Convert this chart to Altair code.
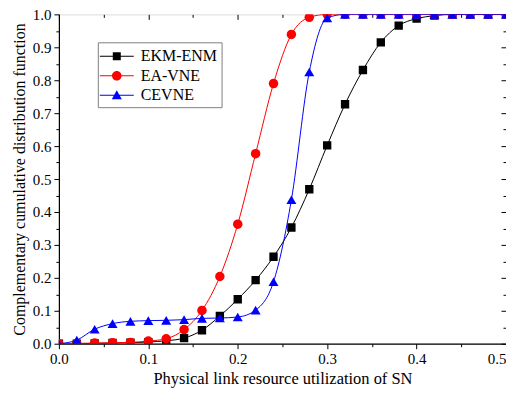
import altair as alt
import pandas as pd

# ---- data ----
x_values = [0.00, 0.02, 0.04, 0.06, 0.08, 0.10, 0.12, 0.14, 0.16, 0.18, 0.20, 0.22, 0.24,
            0.26, 0.28, 0.30, 0.32, 0.34, 0.36, 0.38, 0.40, 0.42, 0.44, 0.46, 0.48, 0.50]
ekm_enm = [0.000, 0.000, 0.001, 0.002, 0.003, 0.005, 0.009, 0.017, 0.041, 0.084, 0.135, 0.193, 0.264,
           0.353, 0.469, 0.602, 0.727, 0.831, 0.915, 0.966, 0.987, 0.996, 1.000, 1.000, 1.000, 1.000]
ea_vne = [0.000, 0.001, 0.002, 0.003, 0.004, 0.008, 0.015, 0.043, 0.101, 0.204, 0.363, 0.577, 0.790,
          0.939, 0.991, 1.000, 1.000, 1.000, 1.000, 1.000, 1.000, 1.000, 1.000, 1.000, 1.000, 1.000]
cevne = [0.000, 0.011, 0.044, 0.061, 0.068, 0.070, 0.071, 0.073, 0.077, 0.078, 0.081, 0.102, 0.188,
         0.437, 0.825, 0.989, 1.000, 1.000, 1.000, 1.000, 1.000, 1.000, 1.000, 1.000, 1.000, 1.000]

series_names = ["EKM-ENM", "EA-VNE", "CEVNE"]
series_colors = ["#000000", "#ff0000", "#0000ff"]
series_shapes = ["square", "circle", "triangle-up"]
series_sizes = [70, 90, 100]

x_major = [0.0, 0.1, 0.2, 0.3, 0.4, 0.5]
x_minor = [0.05, 0.15, 0.25, 0.35, 0.45]
y_major = [0.0, 0.1, 0.2, 0.3, 0.4, 0.5, 0.6, 0.7, 0.8, 0.9, 1.0]
y_minor = [0.05, 0.15, 0.25, 0.35, 0.45, 0.55, 0.65, 0.75, 0.85, 0.95]

x_title = "Physical link resource utilization of SN"
y_title = "Complementary cumulative distribution function"

rows = []
for name, vals in zip(series_names, [ekm_enm, ea_vne, cevne]):
    for xv, yv in zip(x_values, vals):
        rows.append({"x": xv, "y": yv, "series": name})
df = pd.DataFrame(rows)

FONT = "Liberation Serif"
xs = alt.Scale(domain=[0, 0.5], nice=False, zero=False)
ys = alt.Scale(domain=[0, 1], nice=False, zero=False)

base = alt.Chart(df)


def axis_layer(xaxis, yaxis):
    return base.mark_point(opacity=0).encode(
        x=alt.X("x:Q", scale=xs, axis=xaxis),
        y=alt.Y("y:Q", scale=ys, axis=yaxis),
    )


common = dict(grid=False, domainColor="black", tickColor="black", tickWidth=1,
              labelFont=FONT, labelColor="black", titleFont=FONT, titleColor="black",
              labelFlush=False, labelOverlap=False)

main_axes = axis_layer(
    alt.Axis(orient="bottom", values=x_major, format=".1f", tickSize=5, labelPadding=3,
             labelFontSize=15, title=x_title, titleFontSize=16.5, titleFontWeight="normal",
             titlePadding=4, domainWidth=1.2,
             labelAlign={"condition": {"test": "datum.value >= 0.5", "value": "right"},
                         "value": "center"},
             **common),
    alt.Axis(orient="left", values=y_major, format=".1f", tickSize=5, labelPadding=3,
             labelFontSize=15, title=y_title, titleFontSize=16, titleFontWeight="normal",
             titlePadding=5, domainWidth=1.2, **common),
)
minor_axes = axis_layer(
    alt.Axis(orient="bottom", values=x_minor, tickSize=3, labels=False, domain=False, title=None,
             grid=False, tickColor="black"),
    alt.Axis(orient="left", values=y_minor, tickSize=3, labels=False, domain=False, title=None,
             grid=False, tickColor="black"),
)
top_right_major = axis_layer(
    alt.Axis(orient="top", values=x_major, tickSize=5, offset=-5, labels=False, domain=False,
             title=None, grid=False, tickColor="black"),
    alt.Axis(orient="right", values=y_major, tickSize=5, offset=-5, labels=False, domain=False,
             title=None, grid=False, tickColor="black"),
)
top_right_minor = axis_layer(
    alt.Axis(orient="top", values=x_minor, tickSize=3, offset=-3, labels=False, domain=False,
             title=None, grid=False, tickColor="black"),
    alt.Axis(orient="right", values=y_minor, tickSize=3, offset=-3, labels=False, domain=False,
             title=None, grid=False, tickColor="black"),
)

data_layers = []
for name, color, shape, size in zip(series_names, series_colors, series_shapes, series_sizes):
    sub = base.transform_filter(alt.datum.series == name)
    line = sub.mark_line(color=color, strokeWidth=1, interpolate="monotone", clip=True).encode(
        x=alt.X("x:Q", scale=xs, axis=None),
        y=alt.Y("y:Q", scale=ys, axis=None),
    )
    pts = sub.mark_point(shape=shape, filled=True, size=size, color=color, opacity=1,
                         clip=True).encode(
        x=alt.X("x:Q", scale=xs, axis=None),
        y=alt.Y("y:Q", scale=ys, axis=None),
    )
    data_layers += [line, pts]

# legend symbols: a line with the marker in its middle (scale 10 px per unit)
legend_paths = [
    "M-1.7,-0.05H1.7V0.05H-1.7Z M-0.4,-0.4H0.4V0.4H-0.4Z",
    "M-1.7,-0.05H1.7V0.05H-1.7Z M-0.48,0A0.48,0.48 0 1,1 0.48,0A0.48,0.48 0 1,1 -0.48,0Z",
    "M-1.7,-0.05H1.7V0.05H-1.7Z M0,-0.5L0.5,0.4L-0.5,0.4Z",
]
leg = alt.Legend(orient="none", legendX=39, legendY=28, direction="vertical", title=None,
                 fillColor="white", strokeColor="#808080", padding=4,
                 labelFont=FONT, labelFontSize=16, labelColor="black", labelOffset=14,
                 symbolOffset=5, symbolSize=400, symbolOpacity=1, symbolStrokeWidth=0,
                 rowPadding=1.5)
legend_layer = base.mark_point(opacity=0, filled=True).encode(
    x=alt.X("x:Q", scale=xs, axis=None),
    y=alt.Y("y:Q", scale=ys, axis=None),
    color=alt.Color("series:N", scale=alt.Scale(domain=series_names, range=series_colors),
                    legend=leg, sort=series_names),
    shape=alt.Shape("series:N", scale=alt.Scale(domain=series_names, range=legend_paths),
                    legend=leg, sort=series_names),
)

chart = alt.layer(
    main_axes, minor_axes, top_right_major, top_right_minor, *data_layers, legend_layer
).resolve_axis(x="independent", y="independent").properties(
    width=448, height=330,
    autosize=alt.AutoSizeParams(type="none"),
    padding={"left": 51, "top": 6, "right": 0, "bottom": 44},
).configure_view(stroke="black", strokeWidth=1.2).configure(font=FONT)

chart.save("out.html", embed_options={"renderer": "svg", "actions": False})
